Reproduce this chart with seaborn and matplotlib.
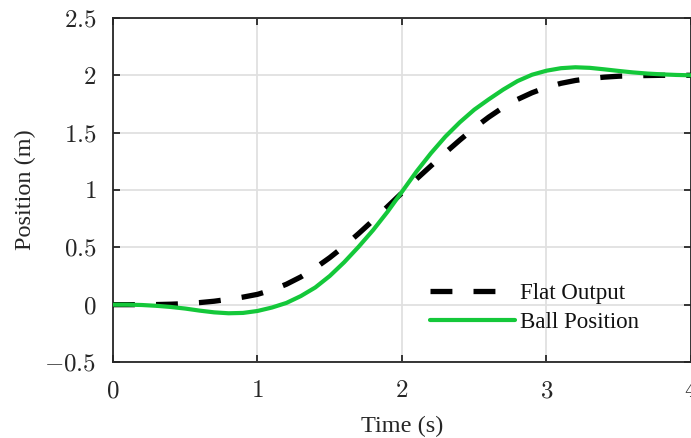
import numpy as np
import pandas as pd
import matplotlib
matplotlib.use("Agg")
import matplotlib.pyplot as plt
import seaborn as sns
from matplotlib.ticker import FuncFormatter

# ---- data ----
time_s = [0.0, 0.1, 0.2, 0.3, 0.4, 0.5, 0.6, 0.7, 0.8, 0.9,
          1.0, 1.1, 1.2, 1.3, 1.4, 1.5, 1.6, 1.7, 1.8, 1.9,
          2.0, 2.1, 2.2, 2.3, 2.4, 2.5, 2.6, 2.7, 2.8, 2.9,
          3.0, 3.1, 3.2, 3.3, 3.4, 3.5, 3.6, 3.7, 3.8, 3.9, 4.0]
flat_output = [0.000, 0.000, 0.000, 0.001, 0.004, 0.009, 0.018, 0.030, 0.047, 0.066,
               0.090, 0.128, 0.178, 0.242, 0.320, 0.410, 0.510, 0.620, 0.735, 0.855,
               0.975, 1.095, 1.210, 1.325, 1.435, 1.540, 1.635, 1.720, 1.790, 1.848,
               1.895, 1.930, 1.955, 1.972, 1.984, 1.992, 1.996, 1.998, 2.000, 2.000, 2.000]
ball_position = [0.000, 0.000, -0.003, -0.010, -0.020, -0.034, -0.052, -0.067, -0.075, -0.072,
                 -0.055, -0.025, 0.015, 0.075, 0.150, 0.250, 0.370, 0.505, 0.650, 0.810,
                 0.985, 1.160, 1.320, 1.465, 1.590, 1.700, 1.790, 1.875, 1.950, 2.005,
                 2.040, 2.062, 2.070, 2.065, 2.052, 2.038, 2.025, 2.015, 2.008, 2.003, 2.000]
x_ticks = [0, 1, 2, 3, 4]
y_ticks = [-0.5, 0, 0.5, 1, 1.5, 2, 2.5]
series_names = ["Flat Output", "Ball Position"]

df = pd.DataFrame({
    "Time": time_s * 2,
    "Position": flat_output + ball_position,
    "Series": [series_names[0]] * len(time_s) + [series_names[1]] * len(time_s),
})

sns.set_theme(style="whitegrid")
plt.rcParams["font.family"] = ["Liberation Serif", "DejaVu Serif"]
plt.rcParams["mathtext.fontset"] = "cm"

fig = plt.figure(figsize=(6.91, 4.38), dpi=100)
ax = fig.add_axes([0.1635, 0.1735, 0.8365, 0.7855])

sns.lineplot(data=df, x="Time", y="Position", hue="Series", style="Series",
             palette={"Flat Output": "black", "Ball Position": "#14c83a"},
             dashes={"Flat Output": (4.15, 4.0), "Ball Position": ""},
             hue_order=series_names, style_order=series_names,
             ax=ax, estimator=None, sort=False)

lines = ax.get_lines()
lines[0].set_linewidth(3.8)
lines[1].set_linewidth(3.0)
lines[0].set_zorder(3)
lines[1].set_zorder(4)

ax.set_xlim(0, 4)
ax.set_ylim(-0.5, 2.5)
ax.set_xticks(x_ticks)
ax.set_yticks(y_ticks)

def fmt(v, pos):
    s = ("%g" % v)
    if v < 0:
        s = r"-" + s[1:]
    return "$" + s + "$"
ax.xaxis.set_major_formatter(FuncFormatter(fmt))
ax.yaxis.set_major_formatter(FuncFormatter(fmt))

ax.grid(True, color="#e0e0e0", linewidth=1.3)
ax.set_facecolor("white")
for side in ["left", "bottom", "top", "right"]:
    ax.spines[side].set_visible(True)
    ax.spines[side].set_color("#262626")
    ax.spines[side].set_linewidth(1.3)

ax.tick_params(axis="both", which="major", direction="in", length=5, width=1.3,
               color="#262626", labelsize=18, labelcolor="#262626",
               top=True, right=True, bottom=True, left=True)
ax.tick_params(axis="x", pad=13)
ax.tick_params(axis="y", pad=12)

ax.set_xlabel("Time (s)", fontsize=17.5, color="#262626", labelpad=10)
ax.set_ylabel("Position (m)", fontsize=17.5, color="#262626", labelpad=6)

handles, labels = ax.get_legend_handles_labels()
leg = ax.legend(handles=handles, labels=labels, loc="lower left",
                bbox_to_anchor=(0.549, 0.085), frameon=False, fontsize=16.5,
                handlelength=3.7, handletextpad=0.22, labelspacing=0.33,
                borderpad=0, borderaxespad=0)
for t in leg.get_texts():
    t.set_color("#111111")
leg.get_lines()[0].set_linewidth(3.8)
leg.get_lines()[1].set_linewidth(3.0)

fig.savefig("out.png", dpi=100)
